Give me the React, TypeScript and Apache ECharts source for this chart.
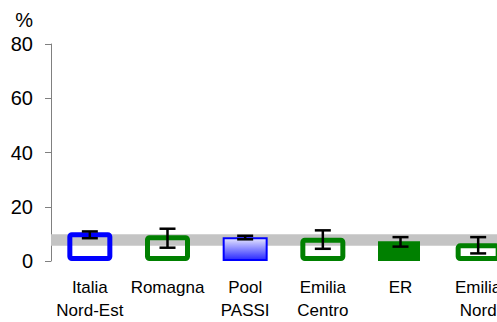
import React, { useEffect, useRef } from "react";
import * as echarts from "echarts";

const categories = ["Italia\nNord-Est", "Romagna", "Pool\nPASSI", "Emilia\nCentro", "ER", "Emilia\nNord"];
const values = [10.6, 9.5, 8.8, 8.6, 7.3, 6.5];
const errLow = [8.4, 4.9, 8.0, 4.5, 5.3, 2.8];
const errHigh = [10.9, 11.9, 9.3, 11.3, 8.8, 8.8];
const bandRange = [5.6, 9.9];
const yTicks = { min: 0, max: 80, interval: 20 };
const solidIndex = 4; // "ER" is the filled bar

const BLUE = "#0000ff";
const GREEN = "#008000";
const FONT = "Liberation Sans, Arial, sans-serif";

export default function App() {
  const ref = useRef<HTMLDivElement>(null);

  useEffect(() => {
    if (!ref.current) return;
    const chart = echarts.init(ref.current, undefined, { renderer: "svg" });

    const outline = (c: string) => ({
      color: "rgba(0,0,0,0)",
      borderColor: c,
      borderWidth: 5,
      borderRadius: 2,
    });
    const styles: any[] = [
      outline(BLUE),
      outline(GREEN),
      {
        color: new echarts.graphic.LinearGradient(0, 0, 0, 1, [
          { offset: 0, color: "#e6e6ff" },
          { offset: 1, color: "#2828ff" },
        ]),
        borderColor: BLUE,
        borderWidth: 2,
      },
      outline(GREEN),
      { color: GREEN },
      outline(GREEN),
    ];

    const outlineData = values.map((v, i) =>
      i === solidIndex ? null : { value: v, itemStyle: styles[i] }
    );
    const solidData = values.map((v, i) =>
      i === solidIndex ? { value: v, itemStyle: styles[i] } : null
    );
    const errData = values.map((_, i) => [i, errLow[i], errHigh[i]]);

    chart.setOption({
      animation: false,
      grid: { left: 51, top: 44, bottom: 60, right: 43, containLabel: false },
      graphic: [
        {
          type: "text",
          right: 527,
          top: 10,
          style: { text: "%", font: `20px ${FONT}`, fill: "#000" },
        },
      ],
      xAxis: {
        type: "category",
        data: categories,
        axisLine: { show: false },
        axisTick: { show: false },
        axisLabel: {
          interval: 0,
          fontSize: 17,
          fontFamily: FONT,
          color: "#000",
          lineHeight: 23,
          margin: 15,
        },
      },
      yAxis: {
        type: "value",
        min: yTicks.min,
        max: yTicks.max,
        interval: yTicks.interval,
        splitLine: { show: false },
        axisLine: { show: true, lineStyle: { color: "#808080", width: 1 } },
        axisTick: { show: true, length: 6, lineStyle: { color: "#808080" } },
        axisLabel: { fontSize: 20, fontFamily: FONT, color: "#000", margin: 18 },
      },
      series: [
        {
          type: "line",
          data: [],
          z: 1,
          markArea: {
            silent: true,
            itemStyle: { color: "#c4c4c4" },
            data: [[{ yAxis: bandRange[0] }, { yAxis: bandRange[1] }]],
          },
        },
        {
          type: "bar",
          data: solidData,
          barWidth: 42,
          barGap: "-100%",
          z: 2,
        },
        {
          type: "bar",
          data: outlineData,
          barWidth: 45,
          barGap: "-100%",
          z: 2,
        },
        {
          type: "custom",
          z: 3,
          data: errData,
          renderItem: (params: any, api: any) => {
            const i = api.value(0);
            const lo = api.coord([i, api.value(1)]);
            const hi = api.coord([i, api.value(2)]);
            const hw = 8;
            const st = { stroke: "#000", lineWidth: 2.5 };
            return {
              type: "group",
              children: [
                { type: "line", shape: { x1: lo[0], y1: lo[1], x2: hi[0], y2: hi[1] }, style: st },
                { type: "line", shape: { x1: lo[0] - hw, y1: lo[1], x2: lo[0] + hw, y2: lo[1] }, style: st },
                { type: "line", shape: { x1: hi[0] - hw, y1: hi[1], x2: hi[0] + hw, y2: hi[1] }, style: st },
              ],
            };
          },
        },
      ],
    });

    return () => chart.dispose();
  }, []);

  return (
    <div style={{ position: "absolute", left: 0, top: 0, width: 497, height: 322, overflow: "hidden", background: "#fff" }}>
      <div ref={ref} style={{ width: 560, height: 322 }} />
    </div>
  );
}
